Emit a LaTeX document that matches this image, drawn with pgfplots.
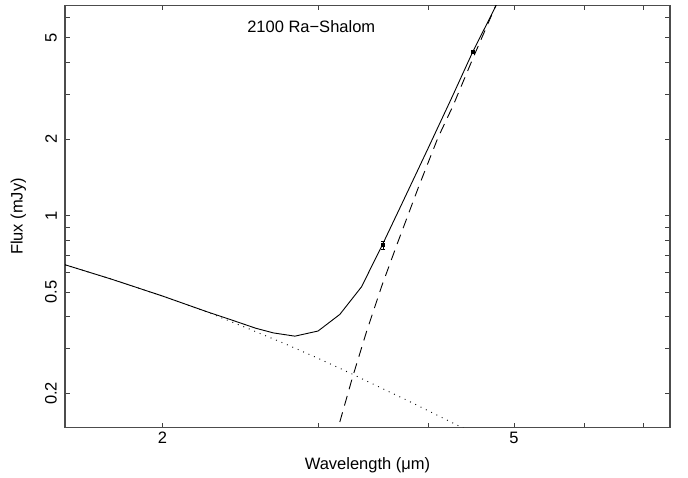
\documentclass[border=0pt]{standalone}
\usepackage{pgfplots}
\pgfplotsset{compat=1.18}
\usepackage{fontspec}
\setmainfont{Liberation Sans}
\newcommand{\lblfont}{\fontsize{16.5}{19}\selectfont}
\begin{document}
\begin{tikzpicture}
\begin{axis}[
  scale only axis,
  width=605pt, height=422.4pt,
  xmode=log, ymode=log,
  xmin=1.551, xmax=7.51,
  ymin=0.1468, ymax=6.70,
  xtick={2,3,4,5,6,7},
  xticklabels={2,,,5,,},
  ytick={0.2,0.3,0.4,0.5,0.6,0.7,0.8,0.9,1,2,3,4,5,6},
  yticklabels={0.2,,,0.5,,,,,1,2,,,5,},
  minor tick num=0,
  log basis x=10, log basis y=10,
  tick align=inside,
  major tick length=5pt,
  tick style={black!75, line width=0.8pt},
  axis line style={black!70, line width=1.1pt},
  xticklabel style={font=\lblfont, inner sep=2pt, yshift=-2pt},
  yticklabel style={font=\lblfont, rotate=90, anchor=south, inner sep=8pt},
  xlabel={Wavelength (μm)},
  ylabel={Flux (mJy)},
  xlabel style={font=\lblfont, at={(axis description cs:0.5,-0.09)}, anchor=center},
  ylabel style={font=\lblfont, at={(axis description cs:-0.077,0.5)}, anchor=center},
]
\coordinate (SW) at (rel axis cs:0,0);
\coordinate (NE) at (rel axis cs:1,1);
% total model
\addplot[black, line width=0.9pt, no marks] coordinates {
(1.551,0.641) (1.75,0.563) (2.0,0.483) (2.25,0.418) (2.4,0.388) (2.55,0.361)
(2.67,0.346) (2.824,0.336) (3.0,0.352) (3.175,0.409) (3.36,0.525) (3.554,0.778)
(3.75,1.15) (4.0,1.85) (4.25,2.9) (4.49,4.40) (4.775,6.72) (4.95,8.8)
};
% stellar component
\addplot[black, line width=0.9pt, dash pattern=on 0.9pt off 5pt, no marks] coordinates {
(1.551,0.641) (1.75,0.563) (2.0,0.483) (2.25,0.417) (2.5,0.360) (2.75,0.314)
(3.0,0.275) (3.25,0.242) (3.5,0.214) (3.75,0.191) (4.0,0.171) (4.25,0.154)
(4.4,0.145) (4.5,0.139)
};
% thermal component
\addplot[black, line width=0.9pt, dash pattern=on 10pt off 7pt, no marks] coordinates {
(3.10,0.115) (3.16,0.146) (3.28,0.230) (3.404,0.350) (3.54,0.526) (3.68,0.76)
(3.9,1.30) (4.1,2.02) (4.265,2.70) (4.5,4.21) (4.753,6.52) (5.0,9.78)
};
% measurements
\addplot[black, only marks, mark=square*, mark size=1.6pt,
  error bars/.cd, y dir=both, y explicit,
  error bar style={line width=0.8pt}, error mark options={rotate=90, mark size=2pt}]
  coordinates {
  (3.554,0.766) +- (0,0.027)
  (4.49,4.40) +- (0,0.05)
};
\node[font=\lblfont, anchor=center] at (rel axis cs:0.407,0.949) {2100 Ra−Shalom};
\end{axis}
\pgfresetboundingbox
\path ([shift={(-65pt,-50.3pt)}]SW) rectangle ([shift={(18pt,5.3pt)}]NE);
\end{tikzpicture}
\end{document}
